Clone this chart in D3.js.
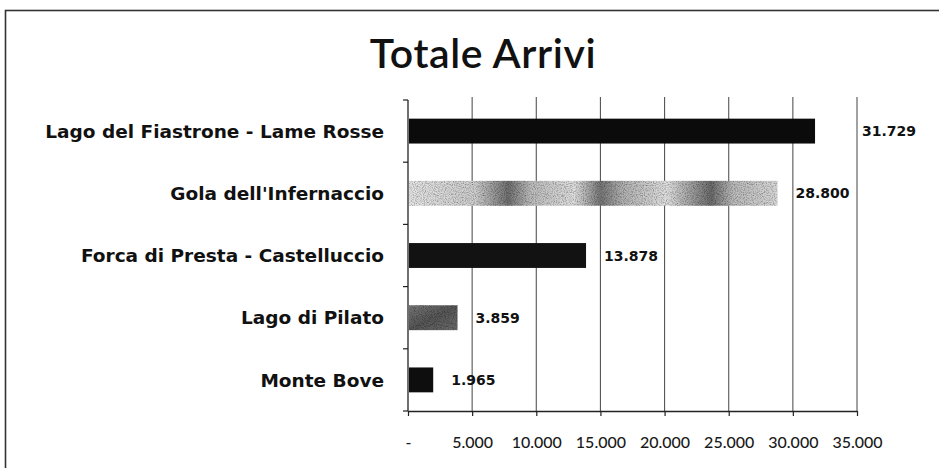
<!DOCTYPE html>
<html>
<head>
<meta charset="utf-8">
<script src="https://cdn.jsdelivr.net/npm/d3@7"></script>
<style>
  html, body { margin: 0; padding: 0; background: #fff; }
  svg { display: block; }
</style>
</head>
<body>
<div id="chart"></div>
<script>

const categories = [ "Lago del Fiastrone - Lame Rosse", "Gola dell'Infernaccio", "Forca di Presta - Castelluccio", "Lago di Pilato", "Monte Bove" ] ;
const values = [ 31729, 28800, 13878, 3859, 1965 ] ;
const barFills = [ "#0b0b0b", "url(#grain)", "#121212", "url(#grain2)", "#0e0e0e" ] ;
const tickValues = [ 0, 5000, 10000, 15000, 20000, 25000, 30000, 35000 ] ;
const title = "Totale Arrivi" ;

const width = 939 ;
const height = 468 ;
const margin = { top: 100, right: 82, bottom: 57, left: 408 } ;

const it = d3.formatLocale({ decimal: ",", thousands: ".", grouping: [3], currency: ["", ""] }) ;
const fmt = it.format(",.0f") ;
const tickFmt = function(d) { return d === 0 ? "-" : fmt(d) } ;

const svg = d3.select("#chart").append("svg")
	.attr("width", width)
	.attr("height", height)
	.attr("viewBox", "0 0 " + width + " " + height) ;

// grainy fills, the reference is a scan
const defs = svg.append("defs") ;
const g1 = defs.append("linearGradient").attr("id", "grain").attr("x1", 0).attr("x2", 1).attr("y1", 0).attr("y2", 0) ;
[ [0, "#e4e4e4"], [0.18, "#cdcdcd"], [0.27, "#707070"], [0.33, "#bcbcbc"], [0.45, "#dedede"],
  [0.52, "#777777"], [0.58, "#b0b0b0"], [0.7, "#e0e0e0"], [0.82, "#6b6b6b"], [0.88, "#bababa"], [1, "#d8d8d8"] ]
	.forEach(function(s) { g1.append("stop").attr("offset", s[0]).attr("stop-color", s[1]) }) ;
const g2 = defs.append("linearGradient").attr("id", "grain2").attr("x1", 0).attr("x2", 1).attr("y1", 0).attr("y2", 1) ;
[ [0, "#7a7a7a"], [0.5, "#575757"], [1, "#6c6c6c"] ]
	.forEach(function(s) { g2.append("stop").attr("offset", s[0]).attr("stop-color", s[1]) }) ;
const noise = defs.append("filter").attr("id", "noise").attr("x", 0).attr("y", 0).attr("width", 1).attr("height", 1) ;
noise.append("feTurbulence").attr("type", "fractalNoise").attr("baseFrequency", 0.9).attr("numOctaves", 2).attr("seed", 3).attr("result", "t") ;
noise.append("feColorMatrix").attr("in", "t").attr("type", "matrix")
	.attr("values", "0 0 0 0 0  0 0 0 0 0  0 0 0 0 0  0 0 0 1.4 -0.55").attr("result", "dots") ;
noise.append("feComposite").attr("in", "dots").attr("in2", "SourceGraphic").attr("operator", "in").attr("result", "d2") ;
const merge = noise.append("feMerge") ;
merge.append("feMergeNode").attr("in", "SourceGraphic") ;
merge.append("feMergeNode").attr("in", "d2") ;

// frame
svg.append("rect")
	.attr("x", 5.5).attr("y", 10.5)
	.attr("width", width).attr("height", height)
	.attr("fill", "none")
	.attr("stroke", "#333")
	.attr("stroke-width", 1.6) ;

svg.append("text")
	.attr("x", 483).attr("y", 68)
	.attr("text-anchor", "middle")
	.style("font-family", "Lato, 'Open Sans', sans-serif")
	.style("font-size", "41px")
	.style("font-weight", "600")
	.style("letter-spacing", "0.6px")
	.attr("fill", "#111")
	.text(title) ;

const x = d3.scaleLinear()
	.domain([0, 35000])
	.range([margin.left, width - margin.right]) ;

const y = d3.scaleBand()
	.domain(categories)
	.range([margin.top, height - margin.bottom])
	.paddingInner(0.6)
	.paddingOuter(0.3) ;

// vertical gridlines
svg.append("g")
	.selectAll("line")
	.data(tickValues.slice(1))
	.enter()
		.append("line")
			.attr("x1", function(d) { return x(d) })
			.attr("x2", function(d) { return x(d) })
			.attr("y1", margin.top - 3)
			.attr("y2", height - margin.bottom)
			.attr("stroke", "#555")
			.attr("stroke-width", 1.1) ;

// bars
svg.append("g")
	.selectAll("rect")
	.data(values)
	.enter()
		.append("rect")
			.attr("x", x(0) + 1)
			.attr("y", function(d, i) { return y(categories[i]) })
			.attr("width", function(d) { return x(d) - x(0) - 1 })
			.attr("height", y.bandwidth())
			.attr("fill", function(d, i) { return barFills[i] })
			.attr("filter", function(d, i) { return i === 1 || i === 3 ? "url(#noise)" : null }) ;

// value labels: outside end, pushed past the last gridline when they would cross it
const labelW = 56 ;
svg.append("g")
	.selectAll("text")
	.data(values)
	.enter()
		.append("text")
			.attr("x", function(d) {
				const px = x(d) + 18 ;
				return px + labelW > x(35000) ? x(35000) + 5 : px ;
			})
			.attr("y", function(d, i) { return y(categories[i]) + y.bandwidth() / 2 })
			.attr("dy", "0.36em")
			.style("font-family", "'DejaVu Sans', Verdana, sans-serif")
			.style("font-size", "14px")
			.style("font-weight", "bold")
			.attr("fill", "#111")
			.text(function(d) { return fmt(d) }) ;

// y axis: line and ticks at band boundaries
const yAxis = svg.append("g") ;
yAxis.append("line")
	.attr("x1", x(0)).attr("x2", x(0))
	.attr("y1", margin.top).attr("y2", height - margin.bottom)
	.attr("stroke", "#222").attr("stroke-width", 1.3) ;
yAxis.selectAll("line.tick")
	.data(d3.range(categories.length + 1))
	.enter()
		.append("line")
			.attr("class", "tick")
			.attr("x1", x(0) - 5).attr("x2", x(0))
			.attr("y1", function(i) { return margin.top + i * (height - margin.bottom - margin.top) / categories.length })
			.attr("y2", function(i) { return margin.top + i * (height - margin.bottom - margin.top) / categories.length })
			.attr("stroke", "#222").attr("stroke-width", 1.2) ;
yAxis.selectAll("text")
	.data(categories)
	.enter()
		.append("text")
			.attr("x", 384)
			.attr("y", function(d) { return y(d) + y.bandwidth() / 2 })
			.attr("dy", "0.36em")
			.attr("text-anchor", "end")
			.style("font-family", "'DejaVu Sans', Verdana, sans-serif")
			.style("font-size", "18.5px")
			.style("font-weight", "bold")
			.attr("fill", "#111")
			.text(function(d) { return d }) ;

// x axis
const xAxis = svg.append("g")
	.attr("transform", "translate(0," + (height - margin.bottom) + ")")
	.call(d3.axisBottom(x).tickValues(tickValues).tickFormat(tickFmt).tickSize(5).tickSizeOuter(0).tickPadding(21)) ;
xAxis.select(".domain").attr("stroke", "#222").attr("stroke-width", 1.3) ;
xAxis.selectAll(".tick line").attr("stroke", "#222").attr("stroke-width", 1.2) ;
xAxis.selectAll(".tick text")
	.style("font-family", "Lato, 'Open Sans', sans-serif")
	.style("font-size", "16px")
	.style("font-weight", "500")
	.attr("fill", "#1a1a1a") ;

</script>
</body>
</html>
